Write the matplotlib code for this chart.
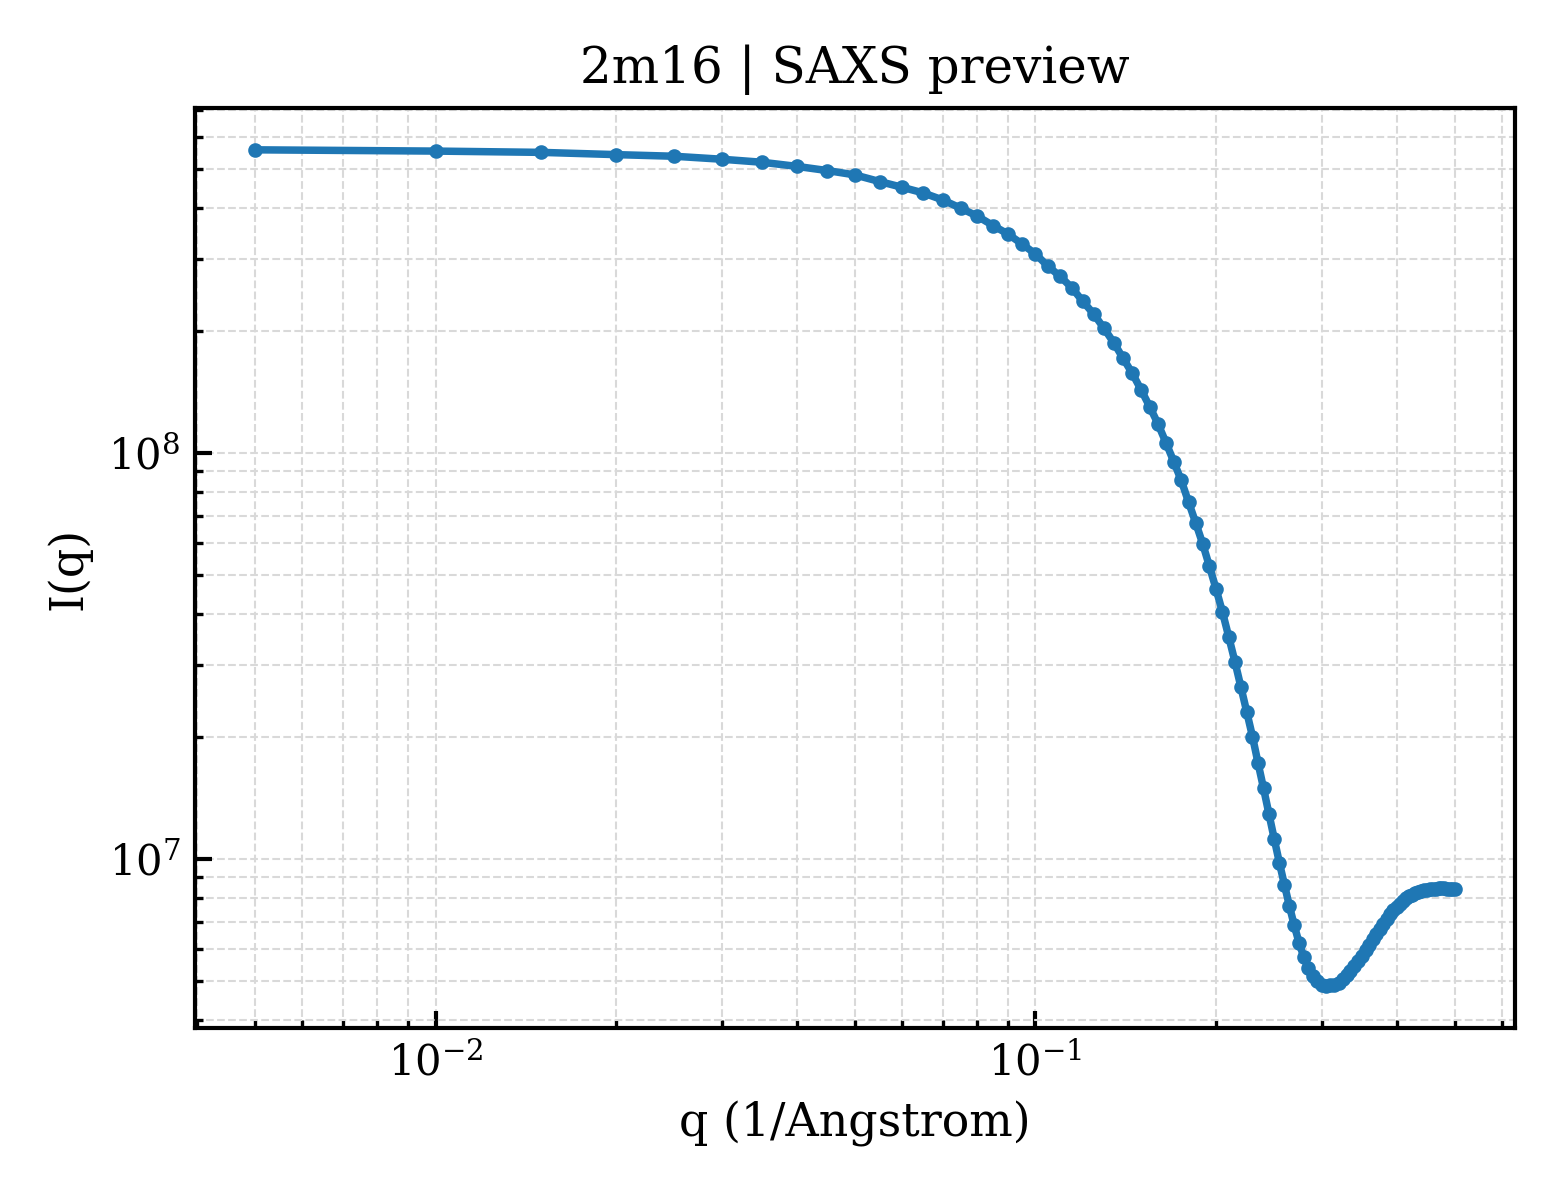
import matplotlib
matplotlib.use("Agg")
import matplotlib.pyplot as plt

# scattering vector (1/Angstrom)
q = [0.005, 0.010, 0.015, 0.020, 0.025, 0.030, 0.035, 0.040, 0.045, 0.050,
     0.055, 0.060, 0.065, 0.070, 0.075, 0.080, 0.085, 0.090, 0.095, 0.100,
     0.105, 0.110, 0.115, 0.120, 0.125, 0.130, 0.135, 0.140, 0.145, 0.150,
     0.155, 0.160, 0.165, 0.170, 0.175, 0.180, 0.185, 0.190, 0.195, 0.200,
     0.205, 0.210, 0.215, 0.220, 0.225, 0.230, 0.235, 0.240, 0.245, 0.250,
     0.255, 0.260, 0.265, 0.270, 0.275, 0.280, 0.285, 0.290, 0.295, 0.300,
     0.305, 0.310, 0.315, 0.320, 0.325, 0.330, 0.335, 0.340, 0.345, 0.350,
     0.355, 0.360, 0.365, 0.370, 0.375, 0.380, 0.385, 0.390, 0.395, 0.400,
     0.405, 0.410, 0.415, 0.420, 0.425, 0.430, 0.435, 0.440, 0.445, 0.450,
     0.455, 0.460, 0.465, 0.470, 0.475, 0.480, 0.485, 0.490, 0.495, 0.500]

# intensity
intensity = [5.58e8, 5.54e8, 5.50e8, 5.43e8, 5.38e8, 5.29e8, 5.20e8, 5.08e8, 4.96e8, 4.84e8,
             4.66e8, 4.51e8, 4.37e8, 4.20e8, 4.01e8, 3.83e8, 3.63e8, 3.46e8, 3.27e8, 3.09e8,
             2.88e8, 2.72e8, 2.55e8, 2.36e8, 2.20e8, 2.03e8, 1.87e8, 1.71e8, 1.57e8, 1.43e8,
             1.30e8, 1.18e8, 1.06e8, 9.52e7, 8.55e7, 7.56e7, 6.72e7, 5.97e7, 5.25e7, 4.62e7,
             4.05e7, 3.52e7, 3.06e7, 2.65e7, 2.30e7, 2.00e7, 1.72e7, 1.49e7, 1.29e7, 1.12e7,
             9.78e6, 8.63e6, 7.65e6, 6.85e6, 6.21e6, 5.73e6, 5.38e6, 5.14e6, 4.99e6, 4.89e6,
             4.85e6, 4.87e6, 4.89e6, 4.95e6, 5.05e6, 5.16e6, 5.30e6, 5.45e6, 5.61e6, 5.77e6,
             5.95e6, 6.14e6, 6.33e6, 6.53e6, 6.72e6, 6.92e6, 7.11e6, 7.30e6, 7.47e6, 7.62e6,
             7.75e6, 7.88e6, 7.99e6, 8.08e6, 8.15e6, 8.22e6, 8.27e6, 8.32e6, 8.36e6, 8.39e6,
             8.41e6, 8.44e6, 8.44e6, 8.45e6, 8.45e6, 8.45e6, 8.44e6, 8.44e6, 8.42e6, 8.40e6]

plt.rcParams['font.family'] = 'DejaVu Serif'
plt.rcParams['mathtext.fontset'] = 'dejavuserif'

fig = plt.figure(figsize=(5.2, 4.0), dpi=300)
ax = fig.add_axes([0.125, 0.1433, 0.846, 0.7667])

ax.plot(q, intensity, color='#1f77b4', lw=1.8, marker='o', ms=2.5)
ax.set_xscale('log')
ax.set_yscale('log')

ax.grid(True, which='both', ls='--', lw=0.5, color='#d9d9d9')
ax.tick_params(which='both', direction='in', labelsize=10)
ax.tick_params(which='major', length=4, width=1.0)
ax.tick_params(which='minor', length=2, width=0.8)
for s in ax.spines.values():
    s.set_linewidth(1.0)

ax.set_xlabel('q (1/Angstrom)', fontsize=11)
ax.set_ylabel('I(q)', fontsize=11)
ax.set_title('2m16 | SAXS preview', fontsize=12)

fig.savefig('out.png', dpi=300)
